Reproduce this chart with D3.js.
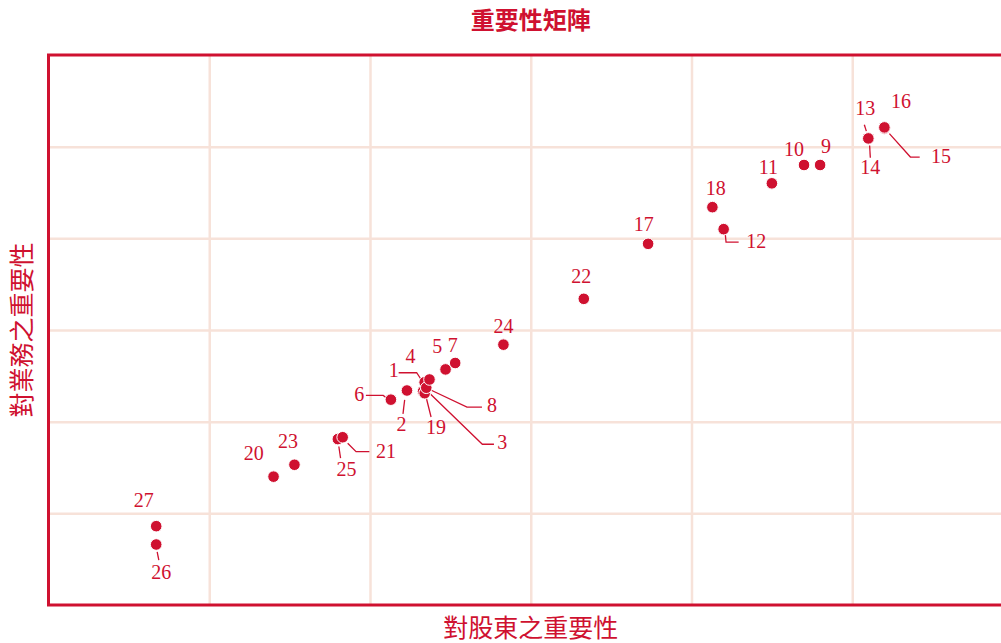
<!DOCTYPE html>
<html>
<head>
<meta charset="utf-8">
<script src="https://cdn.jsdelivr.net/npm/d3@7/dist/d3.min.js"></script>
<style>
  body { margin: 0; background: #fff; }
  svg { display: block; }
</style>
</head>
<body>
<div class="vis-matrix"></div>
<script>
// topic numbers and their scores (stakeholder importance, business importance)
const ids = [1, 2, 3, 4, 5, 6, 7, 8, 9, 10, 11, 12, 13, 14, 15, 16, 17, 18, 19, 20, 21, 22, 23, 24, 25, 26, 27];
const shareholderScore = [2.34, 2.23, 2.34, 2.37, 2.47, 2.13, 2.53, 2.35, 4.80, 4.70, 4.50, 4.20, 5.10, 5.10, 5.20, 5.20, 3.73, 4.13, 2.33, 1.40, 1.83, 3.33, 1.53, 2.83, 1.80, 0.67, 0.67];
const businessScore = [2.43, 2.34, 2.31, 2.46, 2.57, 2.24, 2.64, 2.37, 4.80, 4.80, 4.60, 4.10, 5.09, 5.09, 5.20, 5.21, 3.94, 4.34, 2.33, 1.40, 1.83, 3.34, 1.53, 2.84, 1.81, 0.66, 0.86];
const gridTicks = [1, 2, 3, 4, 5];

const title = "重要性矩陣";
const xTitle = "對股東之重要性";
const yTitle = "對業務之重要性";

// label placement: text offset from dot, optional leader line points (px, relative to dot)
const labelLayout = {
  1: { t: [-31, -5], l: [[-26, -9.5], [-8, -9.5], [-4, -3.5]] },
  2: { t: [-5.5, 40], l: [[-2.3, 9.3], [-4, 23.3]] },
  3: { t: [77.5, 56], l: [[6, 1], [57.7, 51], [69.3, 51]] },
  4: { t: [-19, -16.7] },
  5: { t: [-8.3, -16.6] },
  6: { t: [-31.7, 1.7], l: [[-25, -4.3], [-7.7, -4.3], [-4.3, -1.7]] },
  7: { t: [-2.4, -10.6] },
  8: { t: [65.7, 24.7], l: [[4, 2], [40.7, 19.3], [55.7, 19.3]] },
  9: { t: [6, -12] },
  10: { t: [-10, -8.7] },
  11: { t: [-3.4, -9.3] },
  12: { t: [32.7, 19], l: [[1.7, 5.7], [2.4, 13], [15, 13]] },
  13: { t: [-3, -23], l: [[-4, -13.7], [-2, -7.3]] },
  14: { t: [2, 35.3], l: [[1.3, 7], [2, 19.3]] },
  15: { t: [56.7, 34.7], l: [[5, 5.3], [26, 28.7], [35.3, 28.7]] },
  16: { t: [16.7, -19.7] },
  17: { t: [-4.3, -13.3] },
  18: { t: [3.3, -12.3] },
  19: { t: [13, 42.3], l: [[3, 5.6], [8, 25.6]] },
  20: { t: [-19.7, -16.7] },
  21: { t: [43.4, 20.4], l: [[5, 6], [13.4, 14.4], [26.7, 14.4]] },
  22: { t: [-2.6, -15.7] },
  23: { t: [-6.4, -16.7] },
  24: { t: [0, -12] },
  25: { t: [8.7, 37.4], l: [[1, 7.4], [2.7, 19]] },
  26: { t: [5, 34], l: [[1, 7.4], [2.6, 15.7]] },
  27: { t: [-12.4, -18.7] }
};

const red = "#cf1130";
const gridColor = "#f7e2d9";

const width = 1001, height = 643;
const margin = { top: 55, right: -12, bottom: 38, left: 48.5 };

let data = ids.map((id, i) => ({ id: id, x: shareholderScore[i], y: businessScore[i] }));

const svg = d3.select(".vis-matrix")
  .append("svg")
  .attr("width", width)
  .attr("height", height);

let x = d3.scaleLinear()
  .domain([0, 6])
  .range([margin.left, width - margin.right]);

let y = d3.scaleLinear()
  .domain([0, 6])
  .range([height - margin.bottom, margin.top]);

// grid
svg.append("g")
  .attr("transform", `translate(0,${height - margin.bottom})`)
  .call(d3.axisBottom(x).tickValues(gridTicks).tickSize(-(y(0) - y(6))).tickFormat(""))
  .call(g => g.select(".domain").remove())
  .call(g => g.selectAll(".tick line").attr("stroke", gridColor).attr("stroke-width", 2.5));

svg.append("g")
  .attr("transform", `translate(${margin.left},0)`)
  .call(d3.axisLeft(y).tickValues(gridTicks).tickSize(-(x(6) - x(0))).tickFormat(""))
  .call(g => g.select(".domain").remove())
  .call(g => g.selectAll(".tick line").attr("stroke", gridColor).attr("stroke-width", 2.5));

// frame
svg.append("rect")
  .attr("x", x(0))
  .attr("y", y(6))
  .attr("width", x(6) - x(0))
  .attr("height", y(0) - y(6))
  .attr("fill", "none")
  .attr("stroke", red)
  .attr("stroke-width", 3);

// leader lines
const line = d3.line();
svg.append("g")
  .selectAll("path")
  .data(data.filter(d => labelLayout[d.id].l))
  .join("path")
    .attr("d", d => line(labelLayout[d.id].l.map(p => [x(d.x) + p[0], y(d.y) + p[1]])))
    .attr("fill", "none")
    .attr("stroke", red)
    .attr("stroke-width", 1.3);

// dots, left ones drawn first
svg.append("g")
  .selectAll("circle")
  .data(data.slice().sort((a, b) => a.x - b.x))
  .join("circle")
    .attr("cx", d => x(d.x))
    .attr("cy", d => y(d.y))
    .attr("r", 5.8)
    .attr("fill", red)
    .attr("stroke", "#fff")
    .attr("stroke-width", 1);

// number labels
svg.append("g")
  .selectAll("text")
  .data(data)
  .join("text")
    .attr("x", d => x(d.x) + labelLayout[d.id].t[0])
    .attr("y", d => y(d.y) + labelLayout[d.id].t[1])
    .attr("text-anchor", "middle")
    .attr("fill", red)
    .style("font", "20px 'Liberation Serif', 'DejaVu Serif', serif")
    .text(d => d.id);

// titles
const plotMid = (x(0) + x(6)) / 2;
svg.append("text")
  .attr("x", plotMid)
  .attr("y", 29)
  .attr("text-anchor", "middle")
  .attr("fill", red)
  .style("font", "bold 24px 'Noto Sans CJK TC', sans-serif")
  .text(title);

svg.append("text")
  .attr("x", plotMid)
  .attr("y", 637)
  .attr("text-anchor", "middle")
  .attr("fill", red)
  .style("font", "25px 'Noto Sans CJK TC', sans-serif")
  .text(xTitle);

svg.append("text")
  .attr("transform", `translate(31,${(y(0) + y(6)) / 2}) rotate(-90)`)
  .attr("text-anchor", "middle")
  .attr("fill", red)
  .style("font", "25px 'Noto Sans CJK TC', sans-serif")
  .text(yTitle);
</script>
</body>
</html>
